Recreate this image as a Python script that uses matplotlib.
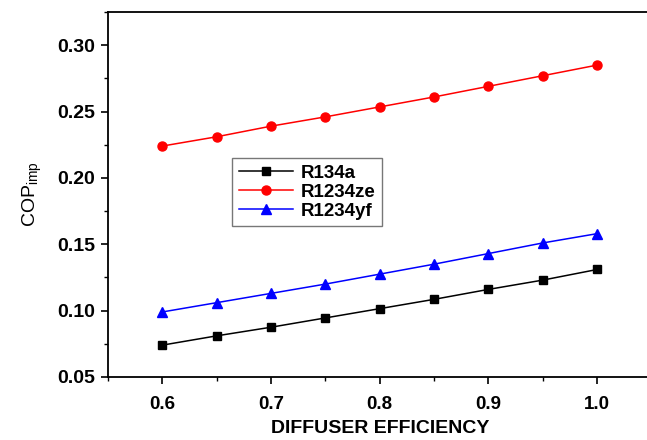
import matplotlib
matplotlib.use("Agg")
import matplotlib.pyplot as plt
from matplotlib.ticker import MultipleLocator

plt.rcParams['font.family'] = ['Liberation Sans', 'DejaVu Sans']

efficiency = [0.6, 0.65, 0.7, 0.75, 0.8, 0.85, 0.9, 0.95, 1.0]
cop_r134a = [0.074, 0.081, 0.0875, 0.0945, 0.1015, 0.1085, 0.116, 0.123, 0.131]
cop_r1234ze = [0.224, 0.231, 0.239, 0.246, 0.2535, 0.261, 0.269, 0.277, 0.285]
cop_r1234yf = [0.099, 0.106, 0.113, 0.120, 0.1275, 0.135, 0.143, 0.151, 0.158]
series_names = ["R134a", "R1234ze", "R1234yf"]

fig = plt.figure(figsize=(6.47, 4.4), dpi=100)
ax = fig.add_axes([0.1669, 0.1432, 0.840, 0.8295])

ax.plot(efficiency, cop_r134a, color='black', marker='s', markersize=6, lw=1.1, label=series_names[0])
ax.plot(efficiency, cop_r1234ze, color='red', marker='o', markersize=6.5, lw=1.1, label=series_names[1])
ax.plot(efficiency, cop_r1234yf, color='blue', marker='^', markersize=7, lw=1.1, label=series_names[2])

ax.set_xlim(0.55, 1.05)
ax.set_ylim(0.05, 0.325)
ax.xaxis.set_major_locator(MultipleLocator(0.1))
ax.xaxis.set_minor_locator(MultipleLocator(0.05))
ax.yaxis.set_major_locator(MultipleLocator(0.05))
ax.yaxis.set_minor_locator(MultipleLocator(0.025))
ax.xaxis.set_major_formatter(plt.FormatStrFormatter('%.1f'))
ax.yaxis.set_major_formatter(plt.FormatStrFormatter('%.2f'))
ax.tick_params(which='major', direction='out', length=5, width=1.2, labelsize=13.5)
ax.tick_params(axis='x', which='major', pad=9)
ax.tick_params(axis='y', which='major', pad=4, labelsize=14)
ax.tick_params(which='minor', direction='out', length=3, width=1.0)
for lbl in ax.get_xticklabels() + ax.get_yticklabels():
    lbl.set_fontweight('bold')
for sp in ax.spines.values():
    sp.set_linewidth(1.3)

ax.set_xlabel("DIFFUSER EFFICIENCY", fontsize=14, fontweight='bold', labelpad=5)
ax.set_ylabel("COP$_{\\mathregular{imp}}$", fontsize=14, labelpad=10)

leg = ax.legend(loc='upper left', bbox_to_anchor=(232 / 647, 1 - 158 / 440), bbox_transform=fig.transFigure,
                frameon=True, fancybox=False, edgecolor='#555555',
                prop={'weight': 'bold', 'size': 13.5}, handlelength=2.9, borderpad=0.35,
                borderaxespad=0, labelspacing=0.1, handletextpad=0.4)
leg.get_frame().set_linewidth(1.0)

fig.savefig("out.png", dpi=100)
